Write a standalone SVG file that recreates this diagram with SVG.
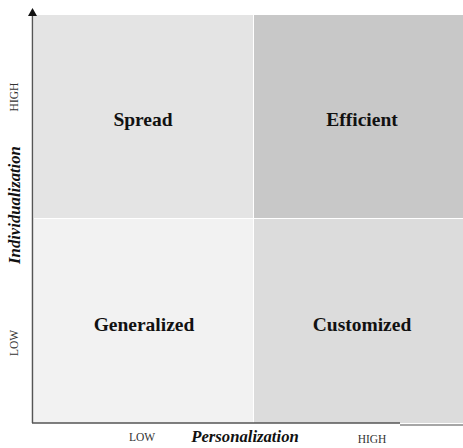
<svg xmlns="http://www.w3.org/2000/svg" width="463" height="448" viewBox="0 0 463 448">
<style>
.q{font-family:"Liberation Serif",serif;font-weight:bold;font-size:19.5px;text-anchor:middle;fill:#111}
.s{font-family:"Liberation Serif",serif;font-size:11.5px;text-anchor:middle;fill:#333}
.ax{font-family:"Liberation Serif",serif;font-weight:bold;font-style:italic;font-size:16.7px;text-anchor:middle;fill:#111}
</style>
<rect width="463" height="448" fill="#fff"/>
<g id="spread"><rect x="34" y="15" width="219" height="203" fill="#e4e4e4"/><text class="q" x="143" y="126">Spread</text></g>
<g id="efficient"><rect x="254" y="15" width="209" height="203" fill="#c8c8c8"/><text class="q" x="362" y="126">Efficient</text></g>
<g id="generalized"><rect x="34" y="219" width="219" height="204" fill="#f2f2f2"/><text class="q" x="144" y="331">Generalized</text></g>
<g id="customized"><rect x="254" y="219" width="209" height="204" fill="#dcdcdc"/><text class="q" x="362" y="331">Customized</text></g>
<g id="connectors" fill="none" stroke="#555" stroke-width="1.5">
<line x1="32.5" y1="423" x2="32.5" y2="15"/>
<path d="M28,16 L32.5,8 L37,16 Z" fill="#111" stroke="none"/>
<line x1="32" y1="423" x2="400" y2="423"/>
<line x1="400" y1="425" x2="463" y2="425" stroke="#888"/>
</g>
<g id="labels">
<text class="s" x="142" y="441">LOW</text>
<text class="s" x="372" y="443">HIGH</text>
<text class="ax" x="245" y="442">Personalization</text>
<text class="s" transform="translate(18,97) rotate(-90)">HIGH</text>
<text class="s" transform="translate(18,343) rotate(-90)">LOW</text>
<text class="ax" transform="translate(20,205) rotate(-90)">Individualization</text>
</g>
</svg>
